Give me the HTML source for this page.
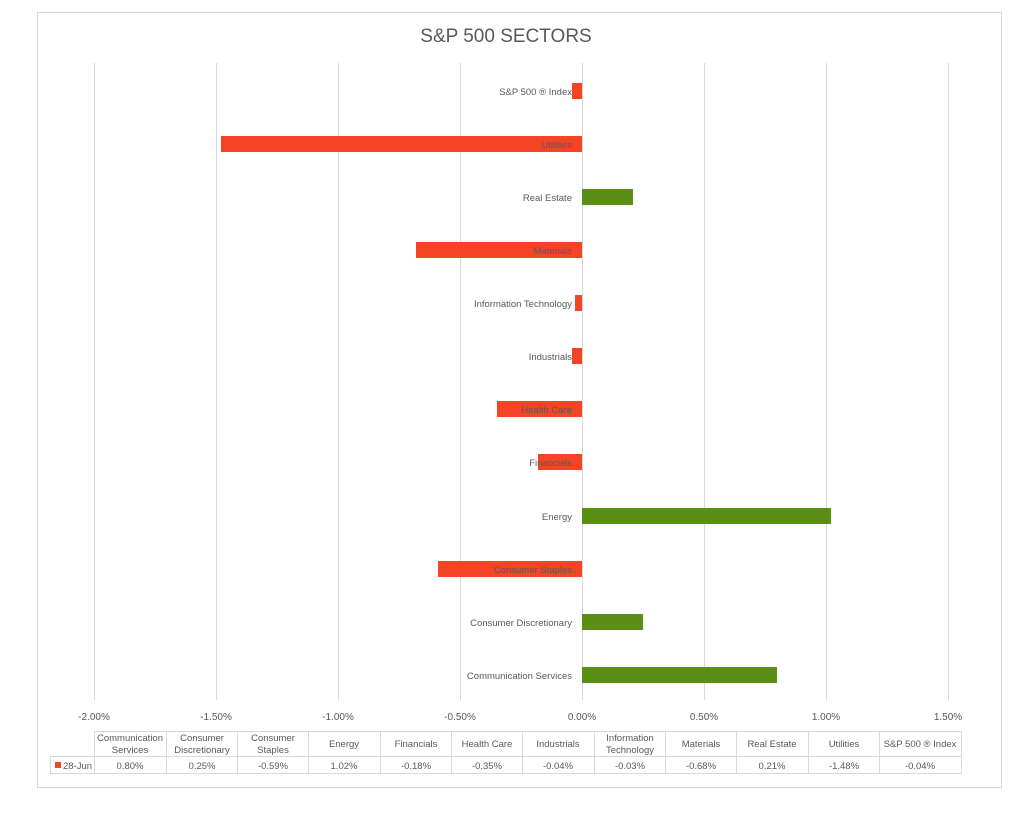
<!DOCTYPE html>
<html><head><meta charset="utf-8"><style>
html,body{margin:0;padding:0;background:#fff;}
svg{display:block;font-family:"Liberation Sans",Calibri,sans-serif;}
</style></head><body>
<svg width="1024" height="816" viewBox="0 0 1024 816" xmlns="http://www.w3.org/2000/svg">
<rect x="37.5" y="12.5" width="964" height="775" fill="#fff" stroke="#d9d9d9"/>
<text x="506" y="42" text-anchor="middle" font-size="19" fill="#595959">S&amp;P 500 SECTORS</text>
<g stroke="#d9d9d9" stroke-width="1">
<line x1="94.5" y1="63" x2="94.5" y2="700"/>
<line x1="216.5" y1="63" x2="216.5" y2="700"/>
<line x1="338.5" y1="63" x2="338.5" y2="700"/>
<line x1="460.5" y1="63" x2="460.5" y2="700"/>
<line x1="582.5" y1="63" x2="582.5" y2="700"/>
<line x1="704.5" y1="63" x2="704.5" y2="700"/>
<line x1="826.5" y1="63" x2="826.5" y2="700"/>
<line x1="948.5" y1="63" x2="948.5" y2="700"/>
</g>
<g font-size="10" fill="#595959" text-anchor="middle">
<text x="94" y="720">-2.00%</text><text x="216" y="720">-1.50%</text><text x="338" y="720">-1.00%</text><text x="460" y="720">-0.50%</text><text x="582" y="720">0.00%</text><text x="704" y="720">0.50%</text><text x="826" y="720">1.00%</text><text x="948" y="720">1.50%</text>
</g>
<g>
<rect x="572" y="83" width="10" height="16" fill="#f34426"/>
<rect x="221" y="136" width="361" height="16" fill="#f34426"/>
<rect x="582" y="189" width="51" height="16" fill="#5a8e14"/>
<rect x="416" y="242" width="166" height="16" fill="#f34426"/>
<rect x="575" y="295" width="7" height="16" fill="#f34426"/>
<rect x="572" y="348" width="10" height="16" fill="#f34426"/>
<rect x="497" y="401" width="85" height="16" fill="#f34426"/>
<rect x="538" y="454" width="44" height="16" fill="#f34426"/>
<rect x="582" y="508" width="249" height="16" fill="#5a8e14"/>
<rect x="438" y="561" width="144" height="16" fill="#f34426"/>
<rect x="582" y="614" width="61" height="16" fill="#5a8e14"/>
<rect x="582" y="667" width="195" height="16" fill="#5a8e14"/>
</g>
<g font-size="9.5" fill="#595959" text-anchor="end">
<text x="572" y="95">S&amp;P 500 ® Index</text>
<text x="572" y="148">Utilities</text>
<text x="572" y="201">Real Estate</text>
<text x="572" y="254">Materials</text>
<text x="572" y="307">Information Technology</text>
<text x="572" y="360">Industrials</text>
<text x="572" y="413">Health Care</text>
<text x="572" y="466">Financials</text>
<text x="572" y="520">Energy</text>
<text x="572" y="573">Consumer Staples</text>
<text x="572" y="626">Consumer Discretionary</text>
<text x="572" y="679">Communication Services</text>
</g>
<g stroke="#d9d9d9" fill="none">
<line x1="94.5" y1="731.5" x2="961" y2="731.5"/>
<line x1="50" y1="756.5" x2="961" y2="756.5"/>
<line x1="50" y1="773.5" x2="961" y2="773.5"/>
<line x1="50.5" y1="756" x2="50.5" y2="774"/>
<line x1="94.5" y1="731" x2="94.5" y2="774"/>
<line x1="166.5" y1="731" x2="166.5" y2="774"/>
<line x1="237.5" y1="731" x2="237.5" y2="774"/>
<line x1="308.5" y1="731" x2="308.5" y2="774"/>
<line x1="380.5" y1="731" x2="380.5" y2="774"/>
<line x1="451.5" y1="731" x2="451.5" y2="774"/>
<line x1="522.5" y1="731" x2="522.5" y2="774"/>
<line x1="594.5" y1="731" x2="594.5" y2="774"/>
<line x1="665.5" y1="731" x2="665.5" y2="774"/>
<line x1="736.5" y1="731" x2="736.5" y2="774"/>
<line x1="808.5" y1="731" x2="808.5" y2="774"/>
<line x1="879.5" y1="731" x2="879.5" y2="774"/>
<line x1="961.5" y1="731" x2="961.5" y2="774"/>
</g>
<g font-size="9.5" fill="#595959" text-anchor="middle">
<text x="130" y="741">Communication</text><text x="130" y="753">Services</text>
<text x="202" y="741">Consumer</text><text x="202" y="753">Discretionary</text>
<text x="273" y="741">Consumer</text><text x="273" y="753">Staples</text>
<text x="344" y="747">Energy</text>
<text x="416" y="747">Financials</text>
<text x="487" y="747">Health Care</text>
<text x="558" y="747">Industrials</text>
<text x="630" y="741">Information</text><text x="630" y="753">Technology</text>
<text x="701" y="747">Materials</text>
<text x="772" y="747">Real Estate</text>
<text x="844" y="747">Utilities</text>
<text x="920" y="747">S&amp;P 500 ® Index</text>
<text x="130" y="769">0.80%</text><text x="202" y="769">0.25%</text><text x="273" y="769">-0.59%</text><text x="344" y="769">1.02%</text><text x="416" y="769">-0.18%</text><text x="487" y="769">-0.35%</text><text x="558" y="769">-0.04%</text><text x="630" y="769">-0.03%</text><text x="701" y="769">-0.68%</text><text x="772" y="769">0.21%</text><text x="844" y="769">-1.48%</text><text x="920" y="769">-0.04%</text>
</g>
<rect x="55" y="762" width="6" height="6" fill="#f34426"/>
<text x="63" y="769" font-size="9.5" fill="#595959">28-Jun</text>
</svg>
</body></html>
